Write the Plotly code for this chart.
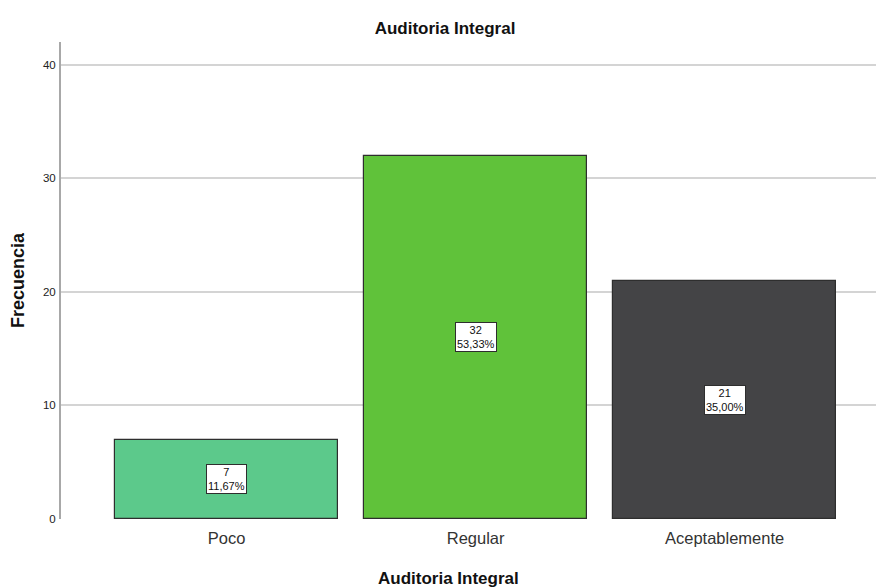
import plotly.graph_objects as go

# Frequency table for "Auditoria Integral"
categories = ["Poco", "Regular", "Aceptablemente"]
counts = [7, 32, 21]
percent_labels = ["11,67%", "53,33%", "35,00%"]
bar_colors = ["#5cc98b", "#60c23a", "#444446"]
y_ticks = [0, 10, 20, 30, 40]

FONT = "Liberation Sans, Arial, sans-serif"

W, H = 876, 587
M_L, M_R, M_T, M_B = 61, 0, 42, 68
PLOT_W = W - M_L - M_R
PLOT_H = H - M_T - M_B


def px_to_paper_x(px):
    return (px - M_L) / PLOT_W


def px_to_paper_y(py):
    return (H - M_B - py) / PLOT_H


fig = go.Figure()
fig.add_trace(go.Bar(
    x=categories,
    y=counts,
    width=0.896,
    marker=dict(color=bar_colors, line=dict(color="#2e2e2e", width=1.2)),
    hoverinfo="x+y",
    showlegend=False,
))

# Boxed count / percent labels at the vertical middle of each bar
for cat, n, pct in zip(categories, counts, percent_labels):
    fig.add_annotation(
        x=cat, y=n / 2, xref="x", yref="y",
        text=f"{n}<br>{pct}",
        showarrow=False,
        font=dict(family=FONT, size=11, color="#111111"),
        bgcolor="white",
        bordercolor="#2e2e2e",
        borderwidth=1,
        borderpad=1,
        align="center",
    )

# Axis titles
fig.add_annotation(
    x=px_to_paper_x(448), y=px_to_paper_y(578), xref="paper", yref="paper",
    text="<b>Auditoria Integral</b>", showarrow=False,
    xanchor="center", yanchor="middle",
    font=dict(family=FONT, size=17, color="#111111"),
)
fig.add_annotation(
    x=px_to_paper_x(18), y=px_to_paper_y(280), xref="paper", yref="paper",
    text="<b>Frecuencia</b>", showarrow=False, textangle=-90,
    xanchor="center", yanchor="middle",
    font=dict(family=FONT, size=18, color="#111111"),
)

fig.update_layout(
    width=W, height=H,
    margin=dict(l=M_L, r=M_R, t=M_T, b=M_B),
    paper_bgcolor="white",
    plot_bgcolor="white",
    font=dict(family=FONT, color="#222222"),
    title=dict(
        text="<b>Auditoria Integral</b>",
        x=445 / W, xanchor="center",
        y=1 - 28 / H, yanchor="middle",
        font=dict(family=FONT, size=17, color="#111111"),
    ),
    bargap=0,
)

fig.update_xaxes(
    range=[-0.665, 2.608],
    showgrid=False,
    showline=False,
    zeroline=False,
    ticks="",
    ticklabelstandoff=7,
    tickfont=dict(family=FONT, size=16.5, color="#333333"),
)

fig.update_yaxes(
    range=[0, 42],
    tickvals=y_ticks,
    showgrid=True,
    gridcolor="#d4d4d4",
    gridwidth=1.5,
    showline=True,
    linecolor="#a8a8a8",
    linewidth=2,
    zeroline=False,
    ticks="",
    ticklabelstandoff=1,
    tickfont=dict(family=FONT, size=11.5, color="#222222"),
)

fig.write_html("out.html")
